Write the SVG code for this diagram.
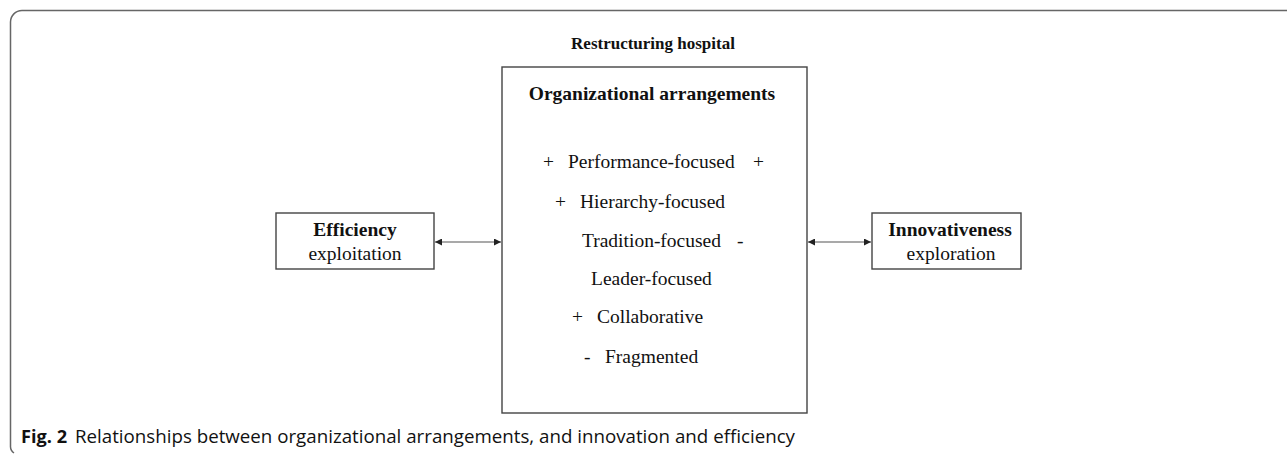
<svg xmlns="http://www.w3.org/2000/svg" width="1287" height="457" viewBox="0 0 1287 457">
<style>
.serif{font-family:"Liberation Serif","Times New Roman",serif;fill:#111;}
.b{font-weight:bold;}
.box{fill:#fff;stroke:#444;stroke-width:1.4;}
.conn{stroke:#555;stroke-width:1.2;fill:none;marker-start:url(#ah);marker-end:url(#ah);}
.cap{font-family:"Open Sans","Noto Sans",sans-serif;fill:#111;font-size:17.5px;}
</style>
<defs>
<marker id="ah" viewBox="0 0 10 10" refX="10" refY="5" markerWidth="7" markerHeight="7" orient="auto-start-reverse" markerUnits="userSpaceOnUse">
<path d="M0,0 L10,5 L0,10 z" fill="#222"/>
</marker>
</defs>
<rect width="1287" height="457" fill="#fff"/>
<path d="M1287,10.5 H22 A11.5,11.5 0 0 0 10.5,22 V446 A8,8 0 0 0 14,453" fill="none" stroke="#666" stroke-width="1.5"/>
<text class="serif b" x="653" y="49" font-size="17" text-anchor="middle">Restructuring hospital</text>
<g id="connectors">
<line class="conn" x1="435" y1="242" x2="501" y2="242"/>
<line class="conn" x1="808" y1="242" x2="871" y2="242"/>
</g>
<g id="org">
<rect class="box" x="502" y="67" width="305" height="346"/>
<text class="serif b" x="652" y="100" font-size="19.5" text-anchor="middle">Organizational arrangements</text>
<g class="serif" font-size="19.5">
<text x="543" y="168">+</text><text x="568" y="168">Performance-focused</text><text x="753" y="168">+</text>
<text x="555" y="208">+</text><text x="580" y="208">Hierarchy-focused</text>
<text x="582" y="247">Tradition-focused</text><text x="737" y="247">-</text>
<text x="591" y="285">Leader-focused</text>
<text x="572" y="323">+</text><text x="597" y="323">Collaborative</text>
<text x="584" y="363">-</text><text x="605" y="363">Fragmented</text>
</g>
</g>
<g id="efficiency">
<rect class="box" x="276" y="213" width="158" height="56"/>
<text class="serif b" x="355" y="236" font-size="19.5" text-anchor="middle">Efficiency</text>
<text class="serif" x="355" y="260" font-size="19.5" text-anchor="middle">exploitation</text>
</g>
<g id="innovativeness">
<rect class="box" x="872" y="213" width="149" height="56"/>
<text class="serif b" x="950" y="236" font-size="19.5" text-anchor="middle">Innovativeness</text>
<text class="serif" x="951" y="260" font-size="19.5" text-anchor="middle">exploration</text>
</g>
<text class="cap" x="21" y="443" font-weight="bold" textLength="46" lengthAdjust="spacingAndGlyphs">Fig. 2</text>
<text class="cap" x="75" y="443" textLength="720" lengthAdjust="spacingAndGlyphs">Relationships between organizational arrangements, and innovation and efficiency</text>
</svg>
